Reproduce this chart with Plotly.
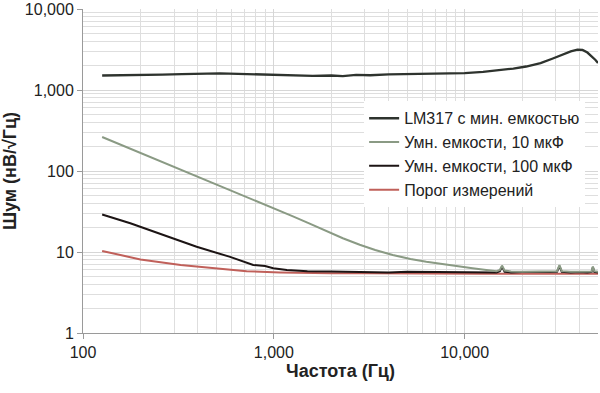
import plotly.graph_objects as go

# ---- data ----
f_lm317 = [126, 160, 200, 260, 330, 420, 520, 650, 800, 1000, 1250, 1600, 2000, 2300,
           2700, 3200, 4000, 5000, 6300, 8000, 10000, 12500, 15000, 18000, 21000, 25000,
           29000, 33000, 36000, 39000, 41500, 44000, 46500, 48500, 50000]
v_lm317 = [1510, 1515, 1525, 1545, 1570, 1590, 1600, 1585, 1560, 1530, 1515, 1490, 1510, 1485,
           1535, 1520, 1560, 1570, 1575, 1590, 1620, 1670, 1740, 1840, 1950, 2150,
           2450, 2780, 3000, 3150, 3120, 2900, 2600, 2350, 2150]

f_10uf = [126, 160, 200, 260, 325, 400, 482, 600, 720, 850, 1000, 1260, 1500, 1890, 2300,
          2820, 3400, 4200, 5200, 6300, 7400, 9000, 11000, 13000, 14700, 15300, 15700, 16200,
          17500, 20000, 24000, 28000, 30500, 31400, 32300, 36000, 40000, 44000, 46300, 47000,
          47800, 50000]
v_10uf = [263, 208, 167, 130, 106, 86, 71, 57, 48, 41, 35, 27.5, 23, 18, 14.8,
          12.3, 10.6, 9.2, 8.2, 7.6, 7.2, 6.6, 6.3, 6.0, 5.8, 6.0, 6.8, 5.9,
          5.75, 5.7, 5.75, 5.7, 5.8, 6.9, 5.8, 5.7, 5.75, 5.7, 5.75, 6.6,
          5.8, 5.7]

f_100uf = [126, 177, 264, 394, 590, 700, 780, 900, 993, 1170, 1500, 2000, 3000, 4000, 5000,
           7000, 9000, 11000, 13000, 14700, 15300, 15700, 16200, 17500, 20000, 24000, 28000,
           30500, 31400, 32300, 36000, 40000, 44000, 46300, 47000, 47800, 50000]
v_100uf = [29, 22.6, 16.2, 11.6, 8.7, 7.6, 6.9, 6.7, 6.3, 6.0, 5.8, 5.75, 5.7, 5.6, 5.7,
           5.65, 5.7, 5.6, 5.65, 5.6, 5.8, 6.6, 5.7, 5.6, 5.65, 5.6, 5.65,
           5.7, 6.7, 5.7, 5.6, 5.65, 5.6, 5.7, 6.5, 5.7, 5.6]

f_floor = [126, 200, 325, 482, 720, 1077, 1500, 2000, 3000, 5000, 8000, 12000, 16000,
           20000, 30000, 40000, 50000]
v_floor = [10.3, 8.1, 6.9, 6.3, 5.8, 5.6, 5.5, 5.45, 5.45, 5.4, 5.45, 5.4, 5.4,
           5.4, 5.4, 5.4, 5.4]

names = ["LM317 с мин. емкостью", "Умн. емкости, 10 мкФ", "Умн. емкости, 100 мкФ", "Порог измерений"]
colors = ["#2e332e", "#8a9a84", "#1c1414", "#c0605a"]
widths = [2.3, 2, 2, 2]

y_major = [1, 10, 100, 1000, 10000]
y_major_text = ["1", "10", "100", "1,000", "10,000"]
x_major = [100, 1000, 10000]
x_major_text = ["100", "1,000", "10,000"]

y_minor = [m * 10 ** d for d in range(0, 4) for m in range(2, 10)]
x_minor = [m * 10 ** d for d in range(2, 5) for m in range(2, 10)]

fig = go.Figure()
series = [
    (f_floor, v_floor, 3),
    (f_100uf, v_100uf, 2),
    (f_10uf, v_10uf, 1),
    (f_lm317, v_lm317, 0),
]
for fx, vy, i in series:
    fig.add_trace(go.Scatter(
        x=fx, y=vy, mode="lines", name=names[i], legendrank=i + 1,
        line=dict(color=colors[i], width=widths[i]),
    ))

font_family = "Liberation Sans, Arial, sans-serif"
fig.update_layout(
    width=600, height=393,
    margin=dict(l=83, r=2, t=9, b=60),
    paper_bgcolor="white", plot_bgcolor="white",
    font=dict(family=font_family, color="#222222", size=16),
    showlegend=True,
    legend=dict(
        x=0.975, xanchor="right", y=0.715, yanchor="top",
        bgcolor="white", borderwidth=0,
        font=dict(size=16, color="#222222"),
        tracegroupgap=0,
    ),
)
fig.update_xaxes(
    type="log", range=[2, 4.699],
    tickmode="array", tickvals=x_major, ticktext=x_major_text,
    showgrid=True, gridcolor="#d6d6d6", gridwidth=1,
    showline=True, linecolor="#9a9a9a", linewidth=1,
    ticks="outside", ticklen=5, tickcolor="#9a9a9a",
    minor=dict(tickmode="array", tickvals=x_minor, showgrid=True, gridcolor="#dedede", ticks=""),
    zeroline=False,
    title=dict(text="<b>Частота (Гц)</b>", font=dict(size=18, color="#222222"), standoff=3),
    tickfont=dict(size=16, color="#222222"),
)
fig.update_yaxes(
    type="log", range=[0, 4],
    tickmode="array", tickvals=y_major, ticktext=y_major_text,
    showgrid=True, gridcolor="#d6d6d6", gridwidth=1,
    showline=True, linecolor="#9a9a9a", linewidth=1,
    ticks="outside", ticklen=5, tickcolor="#9a9a9a",
    minor=dict(tickmode="array", tickvals=y_minor, showgrid=True, gridcolor="#dedede", ticks=""),
    zeroline=False,
    title=dict(text="<b>Шум (нВ/√Гц)</b>", font=dict(size=18, color="#222222"), standoff=5),
    tickfont=dict(size=16, color="#222222"),
)

fig.write_html("out.html")
